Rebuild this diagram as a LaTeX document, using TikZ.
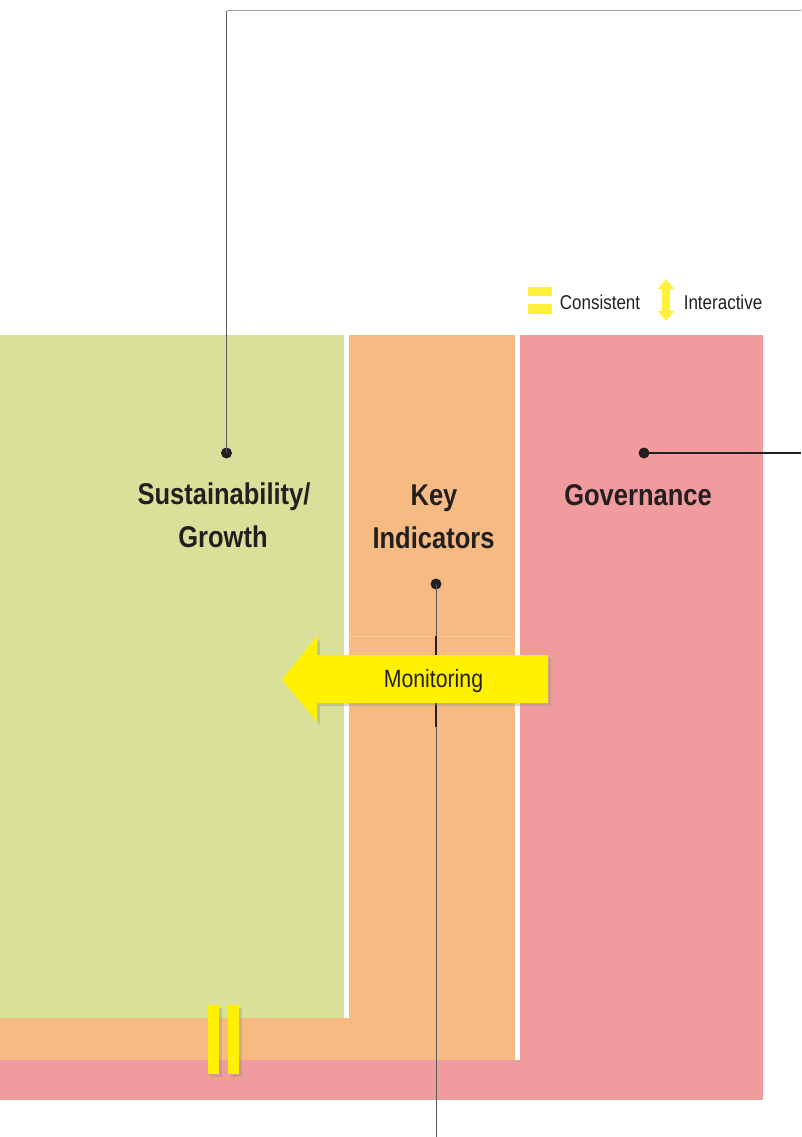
\documentclass[tikz,border=0pt]{standalone}
\usepackage{fontspec}
\setmainfont[FakeStretch=0.85]{Liberation Sans}
\begin{document}
\definecolor{greenzone}{HTML}{D9E099}
\definecolor{orangezone}{HTML}{F6BB83}
\definecolor{pinkzone}{HTML}{F09C9E}
\definecolor{markyellow}{HTML}{FFF100}
\definecolor{legendyellow}{HTML}{FFF03C}
\definecolor{ink}{HTML}{231F20}
\definecolor{leader}{HTML}{5E5A5B}
\definecolor{seam}{HTML}{F9CA9E}
\begin{tikzpicture}[x=1pt,y=-1pt,
  title/.style={font=\bfseries\fontsize{30}{36}\selectfont, text=ink, anchor=base, inner sep=0pt},
  legendtext/.style={font=\fontsize{20}{24}\selectfont, text=ink, anchor=base, inner sep=0pt},
  pin/.style={circle, fill=ink, minimum size=11pt, inner sep=0pt},
  leadline/.style={draw=leader, line width=1pt},
  shadow/.style={fill=black!45, opacity=0.35}]
\useasboundingbox (0,0) rectangle (801,1137);
\fill[white] (0,0) rectangle (801,1137);

% colour zones
\fill[pinkzone] (520,335) rectangle (763,1100);
\fill[pinkzone] (0,1060) rectangle (763,1100);
\fill[orangezone] (349,335) rectangle (515,1060);
\fill[orangezone] (0,1018) rectangle (515,1060);
\fill[greenzone] (0,335) rectangle (343.5,1018);
\draw[seam, line width=0.8pt] (349,636) -- (515,636);

% legend
\fill[legendyellow] (528,287) rectangle (552,296);
\fill[legendyellow] (528,304) rectangle (552,314);
\node[legendtext] (lcons) at (600,309) {Consistent};
\fill[legendyellow] (666,279) -- (674.5,289) -- (670,289) -- (670,311) -- (674.5,311)
  -- (666,321) -- (657.5,311) -- (662,311) -- (662,289) -- (657.5,289) -- cycle;
\node[legendtext] (linter) at (723,309) {Interactive};

% section titles
\node[title] (sus) at (224,504) {Sustainability/};
\node[title] (gro) at (223,547) {Growth};
\node[title] (key) at (434,505) {Key};
\node[title] (ind) at (433.5,548) {Indicators};
\node[title] (gov) at (638,505) {Governance};

% pins and leader lines
\node[pin] (psus) at (226.5,453) {};
\coordinate (ctop) at (226.5,11);
\coordinate (cright) at (801,11);
\draw[leadline] (psus.center) -- (ctop);
\draw[draw=black!38, line width=1pt] (ctop) -- (cright);

\node[pin] (pgov) at (644,453) {};
\coordinate (cgov) at (801,453);
\draw[draw=ink, line width=1.2pt] (pgov.center) -- (cgov);

\node[pin] (pkey) at (436,584) {};
\coordinate (cbottom) at (436,1137);
\coordinate (cthick1) at (436,636);
\coordinate (cthick2) at (436,727);
\draw[leadline] (pkey.center) -- (cbottom);
\draw[draw=ink, line width=1.8pt] (cthick1) -- (cthick2);

% monitoring arrow
\fill[shadow] (551,658) -- (320,658) -- (320,639) -- (285,683) -- (320,725) -- (320,706) -- (551,706) -- cycle;
\fill[markyellow] (548,655) -- (317,655) -- (317,636) -- (282,679.5) -- (317,722) -- (317,703) -- (548,703) -- cycle;
\node[legendtext, font=\fontsize{25}{29}\selectfont] (mon) at (433.5,687) {Monitoring};

% consistency marks
\fill[shadow] (210.5,1007.5) rectangle (221.5,1076.5);
\fill[shadow] (230.5,1007.5) rectangle (241.5,1076.5);
\fill[markyellow] (208,1005) rectangle (219,1074);
\fill[markyellow] (228,1005) rectangle (239,1074);
\end{tikzpicture}
\end{document}
